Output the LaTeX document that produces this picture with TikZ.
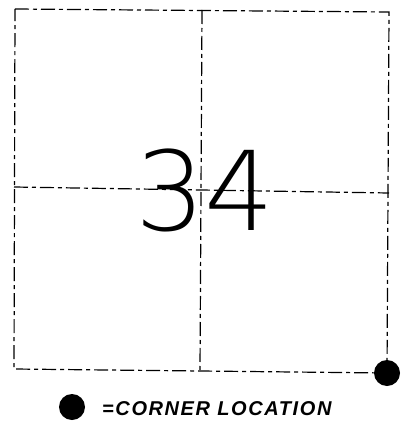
\documentclass[tikz,border=0pt]{standalone}
\usepackage{fontspec}
\setsansfont{Liberation Sans}
\newfontfamily\legendfont[LetterSpace=8]{Liberation Sans}
\IfFontExistsTF{DejaVuSans-ExtraLight.ttf}
  {\newfontfamily\numfont{DejaVuSans-ExtraLight.ttf}}
  {\newfontfamily\numfont{Latin Modern Sans}}
\usetikzlibrary{positioning}

\begin{document}
\begin{tikzpicture}[
            x=1pt, y=-1pt,
            grid/.style={line width=1.2pt, dash pattern=on 14pt off 4pt on 4pt off 4pt},
            corner/.style={circle, fill=black, inner sep=0pt, minimum size=26pt},
            legend/.style={font=\legendfont\bfseries\itshape\fontsize{20}{20}\selectfont, inner sep=0pt}
        ]
        \useasboundingbox (0,0) rectangle (401,425);
        \coordinate (tl) at (15,9);
        \coordinate (tr) at (389,12);
        \coordinate (bl) at (14,369);
        \coordinate (br) at (387,373);
        \coordinate (tm) at (202,10);
        \coordinate (bm) at (200,371);
        \coordinate (lm) at (14,187);
        \coordinate (rm) at (389,193);

        \draw[grid] (tl) -- (tr) -- (br) -- (bl) -- cycle;
        \draw[grid] (tm) -- (bm);
        \draw[grid] (lm) -- (rm);
        \node[font=\numfont\fontsize{110}{110}\selectfont, inner sep=0pt] (num) at (205,190) {34};

        \node[corner] (dot) at (br) {};
        \node[corner] (key) at (72,407) {};
        \node[legend, anchor=west] (keytext) at (102,409) {=CORNER LOCATION};
\end{tikzpicture}
\end{document}
